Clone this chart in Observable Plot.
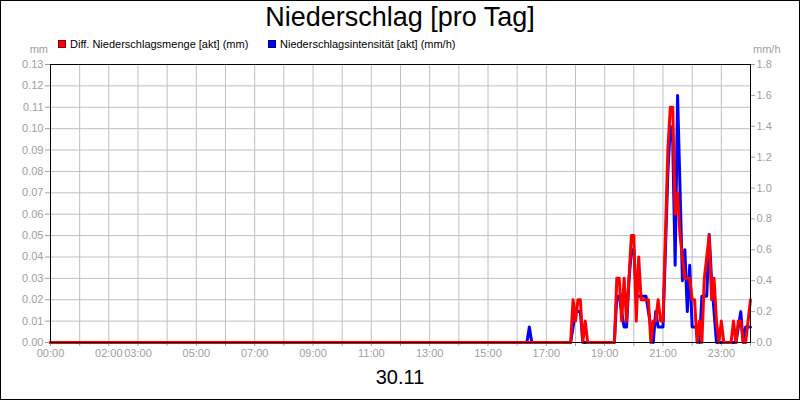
<!DOCTYPE html>
<html><head><meta charset="utf-8">
<script src="https://cdn.jsdelivr.net/npm/d3@7"></script>
<script src="https://cdn.jsdelivr.net/npm/@observablehq/plot@0.6"></script>
<style>
body{margin:0;background:#fff;font-family:"Liberation Sans",Arial,sans-serif;}
#wrap{position:relative;width:800px;height:400px;overflow:hidden;background:#fff}
#chart{position:absolute;left:0;top:0}
.abs{position:absolute;white-space:nowrap;line-height:1}
</style></head><body>
<div id="wrap">
 <div id="chart"></div>
 <div class="abs" style="left:0;width:800px;text-align:center;top:4px;font-size:27px;color:#000">Niederschlag [pro Tag]</div>
 <div class="abs" style="left:58px;top:40px;width:8px;height:8px;background:#ff0000;box-sizing:border-box;border:1px solid #700"></div>
 <div class="abs" style="left:70px;top:39px;font-size:11px;color:#000">Diff. Niederschlagsmenge [akt] (mm)</div>
 <div class="abs" style="left:268px;top:40px;width:8px;height:8px;background:#0000ff;box-sizing:border-box;border:1px solid #007"></div>
 <div class="abs" style="left:280px;top:39px;font-size:11px;color:#000">Niederschlagsintensität [akt] (mm/h)</div>
 <div class="abs" style="right:752px;top:44px;font-size:11px;color:#a0a0a0">mm</div>
 <div class="abs" style="left:753px;top:44px;font-size:11px;color:#a0a0a0">mm/h</div>
 <div class="abs" style="left:0;width:800px;text-align:center;top:367px;font-size:20px;color:#000">30.11</div>
 <div class="abs" style="left:0;top:0;width:800px;height:400px;box-sizing:border-box;border:1px solid #000"></div>
</div>
<script>
const times = ["00:00","16:20","16:25","16:30",
"17:50","17:55","18:00","18:05","18:10","18:15","18:20","18:25",
"18:30","18:35","18:40","18:45","18:50","18:55","19:00","19:05","19:10","19:15","19:20",
"19:25","19:30","19:35","19:40","19:45","19:50","19:55",
"20:00","20:05","20:10","20:15","20:20","20:25","20:30","20:35","20:40","20:45","20:50","20:55",
"21:00","21:05","21:10","21:15","21:20","21:25","21:30","21:35","21:40","21:45","21:50","21:55",
"22:00","22:05","22:10","22:15","22:20","22:25","22:30","22:35","22:40","22:45","22:50","22:55",
"23:00","23:05","23:10","23:15","23:20","23:25","23:30","23:35","23:40","23:45","23:50","23:55",
"24:00"];
const diffMenge = [0,0,0,0,
0,0.02,0.01,0.02,0.02,0,0.01,0,
0,0,0,0,0,0,0,0,0,0,0,
0.03,0.03,0.01,0.03,0.01,0.03,0.05,
0.05,0.01,0.04,0.02,0.02,0.02,0.02,0,0.01,0.01,0.02,0.01,
0.01,0.05,0.09,0.11,0.11,0.06,0.07,0.05,0.04,0.03,0.03,0.03,
0.02,0.02,0,0.01,0,0.03,0.04,0.05,0.02,0.03,0.01,0,
0.01,0,0,0,0,0.01,0,0.01,0.01,0,0,0.01,
0.02];
const intensitaet = [0,0,0.1,0,
0,0.1,0.2,0.2,0.2,0,0,0,
0,0,0,0,0,0,0,0,0,0,0,
0.3,0.3,0.2,0.1,0.1,0.4,0.6,
0.6,0.3,0.3,0.3,0.3,0.3,0.2,0.1,0,0.2,0.1,0.1,
0.1,0.6,1.1,1.4,1.3,0.5,1.6,1.0,0.4,0.6,0.2,0.5,
0.1,0.1,0.1,0,0.3,0.3,0.3,0.7,0.4,0.2,0,0,
0,0,0,0,0,0,0,0.1,0.2,0,0.1,0.1,
0.1];
const xTickLabels = ["00:00","02:00","03:00","05:00","07:00","09:00","11:00","13:00","15:00","17:00","19:00","21:00","23:00"];
const leftTicks = [0,0.01,0.02,0.03,0.04,0.05,0.06,0.07,0.08,0.09,0.10,0.11,0.12,0.13];
const rightTicks = [0,0.2,0.4,0.6,0.8,1.0,1.2,1.4,1.6,1.8];
const leftMax = 0.13, rightMax = 1.8;

const toH = s => { const [h, m] = s.split(":").map(Number); return h + m / 60; };
const ratio = leftMax / rightMax;
const red = times.map((t, i) => ({h: toH(t), v: diffMenge[i]}));
const blue = times.map((t, i) => ({h: toH(t), v: intensitaet[i] * ratio}));
const hourTicks = d3.range(0, 25);
const labelSet = new Map(xTickLabels.map(s => [toH(s), s]));

const grey = "#a0a0a0";
const chart = Plot.plot({
  width: 800, height: 400,
  marginLeft: 50, marginRight: 50, marginTop: 64, marginBottom: 58,
  style: {fontFamily: "'Liberation Sans', Arial, sans-serif", fontSize: "11px", background: "transparent"},
  x: {domain: [0, 24]},
  y: {domain: [0, leftMax]},
  marks: [
    Plot.gridX(hourTicks, {stroke: "#c0c0c0", strokeOpacity: 1}),
    Plot.gridY(leftTicks, {stroke: "#c0c0c0", strokeOpacity: 1}),
    Plot.axisX(hourTicks, {anchor: "bottom", tickSize: 4, tickPadding: 3, color: grey, tickFormat: h => labelSet.get(h) ?? "", label: null}),
    Plot.axisY(leftTicks, {anchor: "left", tickSize: 5, tickPadding: 2, color: grey, tickFormat: d3.format(".2f"), label: null}),
    Plot.axisY(rightTicks.map(v => v * ratio), {anchor: "right", tickSize: 4, tickPadding: 2, color: grey, tickFormat: d => (d / ratio).toFixed(1), label: null}),
    Plot.line(blue, {x: "h", y: "v", stroke: "#0000ff", strokeWidth: 3}),
    Plot.line(red, {x: "h", y: "v", stroke: "#ff0000", strokeWidth: 3}),
    Plot.frame({stroke: "#000"})
  ]
});
document.getElementById("chart").appendChild(chart);
</script>
</body></html>
